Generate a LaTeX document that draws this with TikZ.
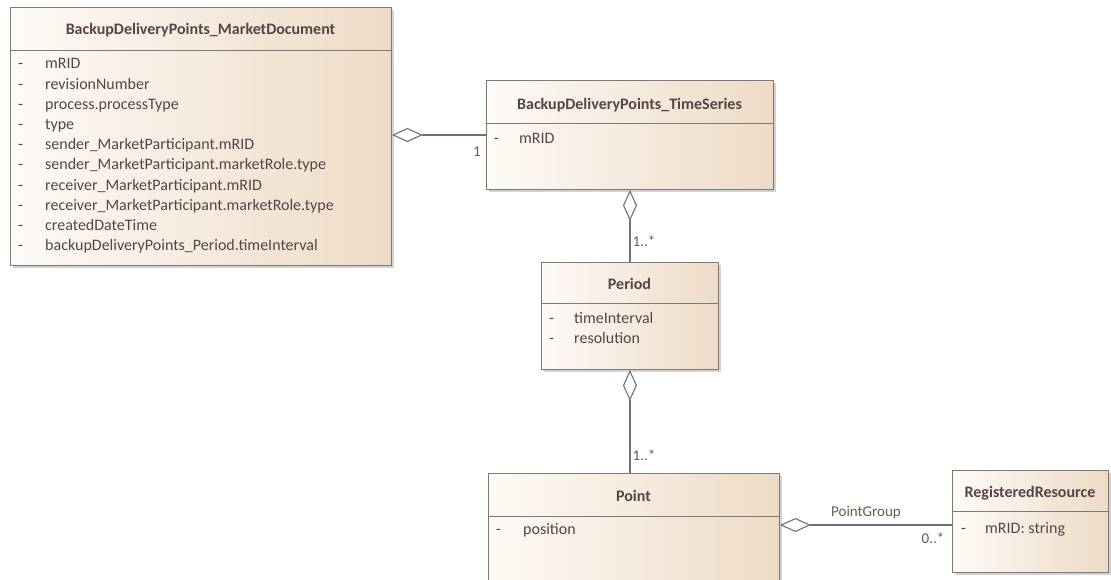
\documentclass[tikz,border=0pt]{standalone}
\usepackage{fontspec}
\setmainfont{Carlito}
\usetikzlibrary{arrows.meta,shadows}
\definecolor{txt}{HTML}{554545}
\definecolor{bord}{HTML}{7C7878}
\definecolor{fillL}{HTML}{FDFAF6}
\definecolor{fillR}{HTML}{EEDBC6}
\definecolor{conn}{HTML}{6F6F80}
\definecolor{lbl}{HTML}{6A5A4A}
\tikzset{
  classbox/.style={draw=bord, line width=0.9pt, left color=fillL, right color=fillR,
    anchor=north west, inner sep=0pt,
    drop shadow={shadow xshift=2.5pt, shadow yshift=-2.5pt, opacity=0.35, fill=gray}},
  title/.style={font=\fontsize{16}{18}\selectfont\bfseries, text=txt, inner sep=0pt,
    text height=11pt, text depth=3pt},
  attr/.style={font=\fontsize{16}{18}\selectfont, text=txt, anchor=west, inner sep=0pt,
    text height=11pt, text depth=3pt},
  dashm/.style={attr},
  hdr/.style={draw=bord, line width=0.9pt},
  agg/.style={draw=conn, line width=1.1pt, -{Diamond[open, length=31pt, width=14pt, line width=1.1pt]}},
  mult/.style={font=\fontsize{15}{17}\selectfont, text=lbl, inner sep=0pt,
    text height=10pt, text depth=3pt},
}
\begin{document}
\begin{tikzpicture}[x=1pt,y=-1pt]
\clip (0,0) rectangle (1111,580);
\fill[white] (0,0) rectangle (1111,580);

% MarketDocument
\node[classbox, minimum width=381pt, minimum height=258pt] (md) at (10,7) {};
\draw[hdr] (10,50) -- (391,50);
\node[title] (mdt) at (200.5,31) {BackupDeliveryPoints\_MarketDocument};
\foreach \t [count=\i from 0] in {mRID,revisionNumber,process.processType,type,sender\_MarketParticipant.mRID,sender\_MarketParticipant.marketRole.type,receiver\_MarketParticipant.mRID,receiver\_MarketParticipant.marketRole.type,createdDateTime,backupDeliveryPoints\_Period.timeInterval}{
  \node[dashm] (mdd\i) at (18,65+20.2*\i) {-};
  \node[attr] (mda\i) at (45,65+20.2*\i) {\t};
}

% TimeSeries
\node[classbox, minimum width=287pt, minimum height=109pt] (ts) at (486,80) {};
\draw[hdr] (486,123) -- (773,123);
\node[title] (tst) at (629.5,106) {BackupDeliveryPoints\_TimeSeries};
\node[dashm] (tsd) at (494,140) {-};
\node[attr] (tsa) at (519,140) {mRID};

% Period
\node[classbox, minimum width=177pt, minimum height=107pt] (per) at (541,262) {};
\draw[hdr] (541,303) -- (718,303);
\node[title] (pert) at (629.5,285) {Period};
\node[dashm] (perd1) at (549,319) {-};
\node[attr] (pera1) at (574,319) {timeInterval};
\node[dashm] (perd2) at (549,339) {-};
\node[attr] (pera2) at (574,339) {resolution};

% Point
\node[classbox, minimum width=291pt, minimum height=130pt] (pt) at (488,473) {};
\draw[hdr] (488,516) -- (779,516);
\node[title] (ptt) at (633.5,497) {Point};
\node[dashm] (ptd) at (496,530) {-};
\node[attr] (pta) at (523,530) {position};

% RegisteredResource
\node[classbox, minimum width=156pt, minimum height=102pt] (rr) at (952,470) {};
\draw[hdr] (952,511) -- (1108,511);
\node[title] (rrt) at (1030,493) {RegisteredResource};
\node[dashm] (rrd) at (961,529) {-};
\node[attr] (rra) at (985,529) {mRID: string};

% connectors
\coordinate (j1) at (486,135);
\draw[agg] (j1) -- (j1 -| md.east);
\node[mult] (m1) at (477,153) {1};

\draw[agg] (per.north) -- (per.north |- ts.south);
\node[mult] (m2) at (644,243) {1..*};

\draw[agg] (per.south |- pt.north) -- (per.south);
\node[mult] (m3) at (644,457) {1..*};

\coordinate (j2) at (952,525);
\draw[agg] (j2) -- (j2 -| pt.east);
\node[mult] (pg) at (866,513) {PointGroup};
\node[mult] (m4) at (933,540) {0..*};
\end{tikzpicture}
\end{document}
